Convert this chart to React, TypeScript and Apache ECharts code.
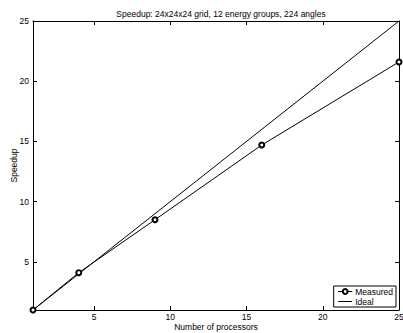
import React, { useEffect, useRef } from "react";
import * as echarts from "echarts";

const processors = [1, 4, 9, 16, 25];
const measured = [1, 4.1, 8.5, 14.7, 21.6];
const idealX = [1, 25];
const idealY = [1, 25];
const tickValues = [5, 10, 15, 20, 25];
const titleText = "Speedup: 24x24x24 grid, 12 energy groups, 224 angles";

const FONT = "Liberation Sans, Arial, Helvetica, sans-serif";

export default function App() {
  const ref = useRef<HTMLDivElement>(null);
  useEffect(() => {
    if (!ref.current) return;
    const chart = echarts.init(ref.current, null, { renderer: "svg" });
    const axisCommon = {
      type: "value",
      min: 1,
      max: 25,
      axisLine: { show: true, onZero: false, lineStyle: { color: "#000", width: 1 } },
      splitLine: { show: false },
    };
    chart.setOption({
      animation: false,
      backgroundColor: "#fff",
      textStyle: { fontFamily: FONT },
      title: {
        text: titleText,
        left: 216,
        top: 4,
        textAlign: "center",
        textStyle: { fontSize: 8.5, fontWeight: "normal", color: "#000", fontFamily: FONT },
      },
      grid: { left: 33, right: 4, top: 21, bottom: 23, containLabel: false, outerBoundsMode: "none" },
      legend: {
        data: [
          { name: "Measured" },
          { name: "Ideal", itemStyle: { opacity: 0 } },
        ],
        orient: "vertical",
        right: 7,
        bottom: 26,
        itemWidth: 14,
        itemHeight: 6,
        itemGap: 1,
        padding: [1, 3, 1, 4],
        borderColor: "#000",
        borderWidth: 1,
        backgroundColor: "#fff",
        lineStyle: { width: 1 },
        itemStyle: { borderWidth: 1 },
        textStyle: { fontSize: 8.5, color: "#000", fontFamily: FONT, padding: [0, 0, 0, -2] },
      },
      xAxis: [
        {
          ...axisCommon,
          position: "bottom",
          name: "Number of processors",
          nameLocation: "middle",
          nameGap: 12,
          nameMoveOverlap: false,
          nameTextStyle: { fontSize: 8.5, color: "#000", fontFamily: FONT },
          axisTick: { show: true, inside: true, length: 4, customValues: tickValues, lineStyle: { color: "#000" } },
          axisLabel: { show: true, customValues: tickValues, fontSize: 8.5, color: "#000", margin: 2, fontFamily: FONT },
        },
        {
          ...axisCommon,
          position: "top",
          axisTick: { show: true, inside: true, length: 4, customValues: tickValues, lineStyle: { color: "#000" } },
          axisLabel: { show: false },
        },
      ],
      yAxis: [
        {
          ...axisCommon,
          position: "left",
          name: "Speedup",
          nameLocation: "middle",
          nameGap: 15,
          nameMoveOverlap: false,
          nameTextStyle: { fontSize: 8.5, color: "#000", fontFamily: FONT },
          axisTick: { show: true, inside: true, length: 4, customValues: tickValues, lineStyle: { color: "#000" } },
          axisLabel: { show: true, customValues: tickValues, fontSize: 8.5, color: "#000", margin: 4, fontFamily: FONT },
        },
        {
          ...axisCommon,
          position: "right",
          axisTick: { show: true, inside: true, length: 4, customValues: tickValues, lineStyle: { color: "#000" } },
          axisLabel: { show: false },
        },
      ],
      series: [
        {
          name: "Measured",
          type: "line",
          data: processors.map((p, i) => [p, measured[i]]),
          symbol: "emptyCircle",
          symbolSize: 5,
          showSymbol: true,
          lineStyle: { color: "#000", width: 1 },
          itemStyle: { color: "#000", borderColor: "#000", borderWidth: 1 },
          clip: false,
          z: 3,
        },
        {
          name: "Ideal",
          type: "line",
          data: idealX.map((x, i) => [x, idealY[i]]),
          symbol: "none",
          lineStyle: { color: "#000", width: 1 },
          itemStyle: { color: "#000" },
          z: 2,
        },
      ],
    });
    return () => chart.dispose();
  }, []);
  return <div ref={ref} style={{ width: 403, height: 333, position: "absolute", left: 0, top: 0 }} />;
}
